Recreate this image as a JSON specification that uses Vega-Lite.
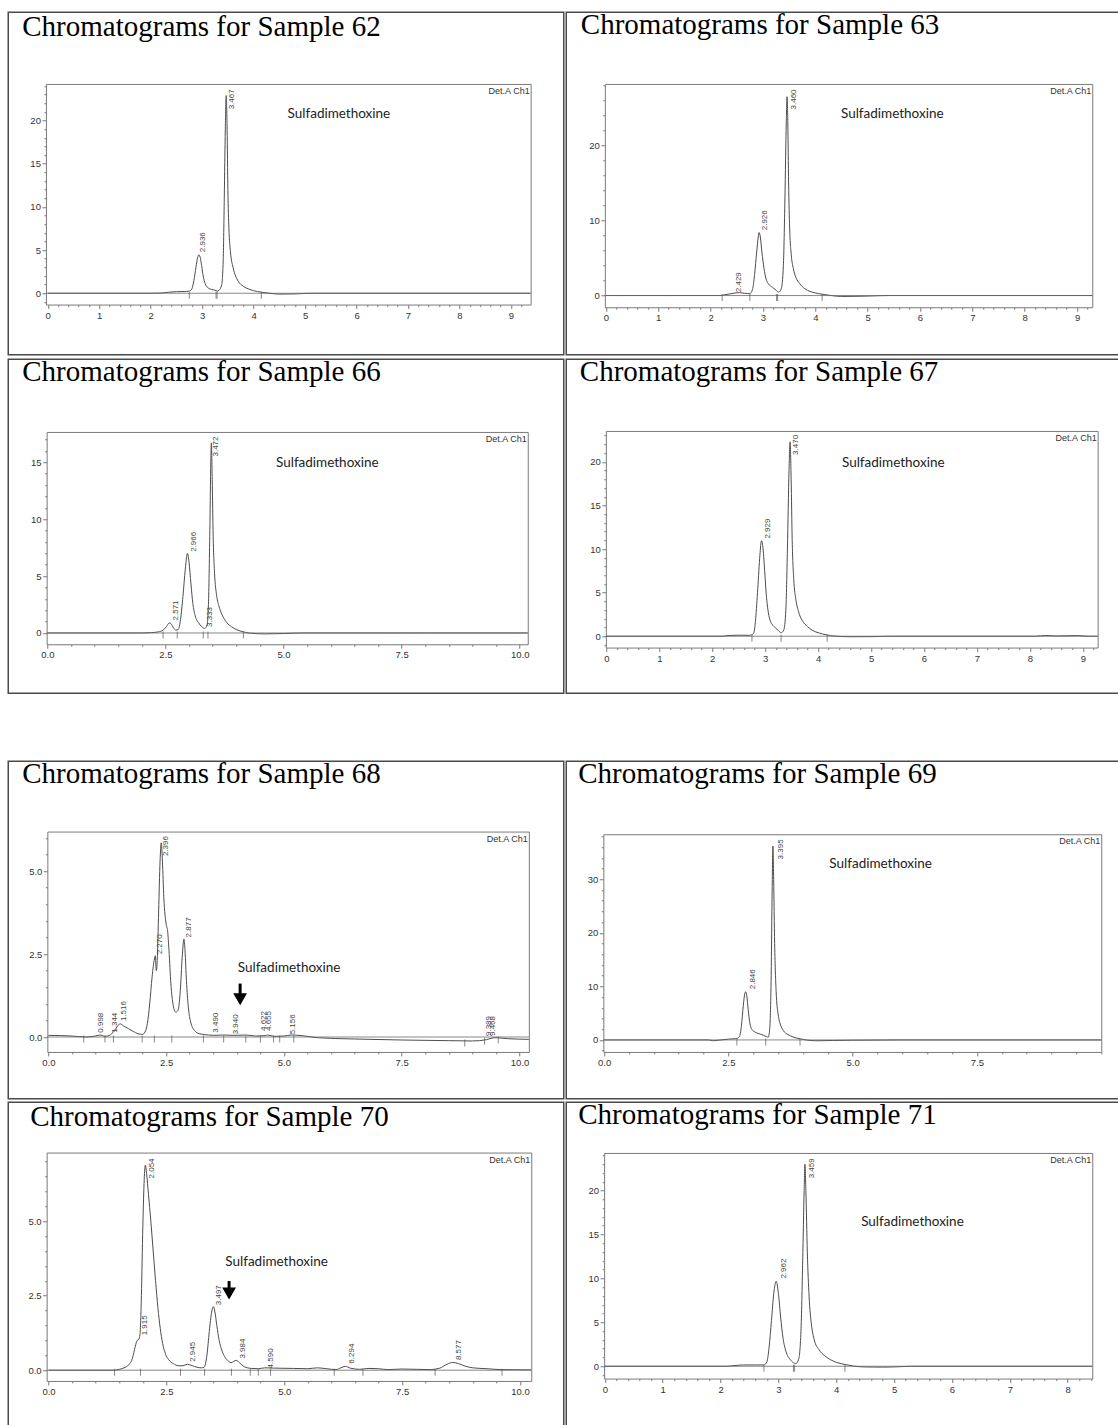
{
"$schema": "https://vega.github.io/schema/vega-lite/v6.json",
"background": "white",
"padding": {"left": 7.25, "top": 9.25, "right": 0, "bottom": 0},
"config": {
  "view": {"stroke": "#4a4a4a", "strokeWidth": 1.5},
  "concat": {"spacing": 0},
  "axis": {"labelFont": "Liberation Sans", "labelFontSize": 9.5, "labelColor": "#333333", "domainColor": "#7a7a7a", "tickColor": "#7a7a7a", "tickSize": 4, "labelPadding": 1.5, "grid": false, "labelFlush": false, "labelOverlap": false},
  "title": {"font": "Liberation Serif", "fontSize": 29, "fontWeight": "normal", "anchor": "start", "color": "#000000", "frame": "group", "baseline": "alphabetic"}
},
"spacing": 65,
"vconcat": [
{"spacing": 0, "vconcat": [
 {"spacing": 0, "hconcat": [
  {
   "width": 555.5, "height": 342.5,
   "title": {"text": "Chromatograms for Sample 62", "offset": -29.3, "dx": 14},
   "resolve": {"axis": {"x": "independent", "y": "independent"}},
   "layer": [
    {"data": {"values": [{"t":0,"v":0},{"t":1,"v":0},{"t":2,"v":0},{"t":2.2,"v":0.02},{"t":2.35,"v":0.12},{"t":2.5,"v":0.18},{"t":2.65,"v":0.2},{"t":2.75,"v":0.25},{"t":2.8,"v":0.5},{"t":2.84,"v":1.5},{"t":2.88,"v":3},{"t":2.91,"v":4.1},{"t":2.936,"v":4.45},{"t":2.96,"v":4.2},{"t":2.99,"v":3.2},{"t":3.02,"v":2},{"t":3.06,"v":1.1},{"t":3.1,"v":0.7},{"t":3.18,"v":0.45},{"t":3.25,"v":0.35},{"t":3.29,"v":0.25},{"t":3.33,"v":0.35},{"t":3.38,"v":1},{"t":3.41,"v":4},{"t":3.43,"v":11},{"t":3.45,"v":19},{"t":3.467,"v":22.9},{"t":3.485,"v":19},{"t":3.5,"v":12},{"t":3.52,"v":7.5},{"t":3.55,"v":4.8},{"t":3.6,"v":3},{"t":3.65,"v":2},{"t":3.7,"v":1.4},{"t":3.8,"v":0.8},{"t":3.9,"v":0.5},{"t":4,"v":0.3},{"t":4.15,"v":0.12},{"t":4.3,"v":0},{"t":4.5,"v":-0.1},{"t":4.8,"v":-0.08},{"t":5,"v":-0.02},{"t":5.2,"v":0},{"t":7,"v":0},{"t":9.38,"v":0}]},
     "mark": {"type": "line", "color": "#4d4d4d", "strokeWidth": 1, "interpolate": "monotone"},
     "encoding": {
      "x": {"field": "t", "type": "quantitative", "title": null, "scale": {"domain": [-0.035, 9.383], "range": [37.7, 522.4], "nice": false, "zero": false}, "axis": {"orient": "bottom", "offset": -50.2, "values": [0,1,2,3,4,5,6,7,8,9], "format": "d"}},
      "y": {"field": "v", "type": "quantitative", "title": null, "scale": {"domain": [-1.31, 24.24], "range": [292.3, 71.7], "nice": false, "zero": false}, "axis": {"orient": "left", "offset": -37.7, "values": [0,5,10,15,20], "format": "d"}}
     }},
    {"data": {"values": [{"t":-0.035,"v":0},{"t":9.383,"v":0}]},
     "mark": {"type": "line", "color": "#6a6a6a", "strokeWidth": 0.8},
     "encoding": {
      "x": {"field": "t", "type": "quantitative", "title": null, "scale": {"domain": [-0.035, 9.383], "range": [37.7, 522.4], "nice": false, "zero": false}, "axis": {"orient": "top", "offset": -71.7, "labels": false, "ticks": false}},
      "y": {"field": "v", "type": "quantitative", "title": null, "scale": {"domain": [-1.31, 24.24], "range": [292.3, 71.7], "nice": false, "zero": false}, "axis": {"orient": "right", "offset": -33.1, "labels": false, "ticks": false}}
     }},
    {"data": {"values": [{"t":2.94,"v":4.75,"lab":"2.936"},{"t":3.5,"v":21.3,"lab":"3.467"}]},
     "mark": {"type": "text", "angle": 270, "align": "left", "baseline": "top", "fontSize": 8, "font": "Liberation Sans", "color": "#444444"},
     "encoding": {
      "x": {"field": "t", "type": "quantitative", "title": null, "scale": {"domain": [-0.035, 9.383], "range": [37.7, 522.4], "nice": false, "zero": false}, "axis": {"orient": "bottom", "offset": -50.2, "values": [0.2,0.4,0.6,0.8,1.2,1.4,1.6,1.8,2.2,2.4,2.6,2.8,3.2,3.4,3.6,3.8,4.2,4.4,4.6,4.8,5.2,5.4,5.6,5.8,6.2,6.4,6.6,6.8,7.2,7.4,7.6,7.8,8.2,8.4,8.6,8.8,9.2], "labels": false, "domain": false, "tickSize": 2}},
      "y": {"field": "v", "type": "quantitative", "title": null, "scale": {"domain": [-1.31, 24.24], "range": [292.3, 71.7], "nice": false, "zero": false}, "axis": {"orient": "left", "offset": -37.7, "values": [-1,1,2,3,4,6,7,8,9,11,12,13,14,16,17,18,19,21,22,23,24], "labels": false, "domain": false, "tickSize": 2}},
      "text": {"field": "lab"}
     }},
    {"data": {"values": [{"t":2.75,"v":0},{"t":3.27,"v":0},{"t":3.29,"v":0},{"t":4.15,"v":0}]},
     "mark": {"type": "tick", "orient": "vertical", "size": 7, "thickness": 1, "color": "#555555", "yOffset": 2},
     "encoding": {
      "x": {"field": "t", "type": "quantitative", "title": null, "scale": {"domain": [-0.035, 9.383], "range": [37.7, 522.4], "nice": false, "zero": false}, "axis": null},
      "y": {"field": "v", "type": "quantitative", "title": null, "scale": {"domain": [-1.31, 24.24], "range": [292.3, 71.7], "nice": false, "zero": false}, "axis": null}
     }},
    {"data": {"values": [{"t":4.66,"v":20.8,"name":"Sulfadimethoxine"}]},
     "mark": {"type": "text", "align": "left", "baseline": "middle", "font": "Lato", "fontSize": 13.5, "color": "#222222"},
     "encoding": {
      "x": {"field": "t", "type": "quantitative", "title": null, "scale": {"domain": [-0.035, 9.383], "range": [37.7, 522.4], "nice": false, "zero": false}, "axis": null},
      "y": {"field": "v", "type": "quantitative", "title": null, "scale": {"domain": [-1.31, 24.24], "range": [292.3, 71.7], "nice": false, "zero": false}, "axis": null},
      "text": {"field": "name"}
     }},
    {"data": {"values": [{"t":9.383,"v":24.24,"name":"Det.A Ch1"}]},
     "mark": {"type": "text", "align": "right", "baseline": "top", "dx": -1, "dy": 3, "font": "Liberation Sans", "fontSize": 9, "color": "#333333"},
     "encoding": {
      "x": {"field": "t", "type": "quantitative", "title": null, "scale": {"domain": [-0.035, 9.383], "range": [37.7, 522.4], "nice": false, "zero": false}, "axis": null},
      "y": {"field": "v", "type": "quantitative", "title": null, "scale": {"domain": [-1.31, 24.24], "range": [292.3, 71.7], "nice": false, "zero": false}, "axis": null},
      "text": {"field": "name"}
     }}
   ]
  },
  {
   "width": 552.5, "height": 342.5,
   "title": {"text": "Chromatograms for Sample 63", "offset": -27.3, "dx": 14.6},
   "resolve": {"axis": {"x": "independent", "y": "independent"}},
   "layer": [
    {"data": {"values": [{"t":0,"v":0},{"t":2,"v":0},{"t":2.2,"v":0},{"t":2.25,"v":0.08},{"t":2.35,"v":0.2},{"t":2.45,"v":0.32},{"t":2.55,"v":0.38},{"t":2.65,"v":0.3},{"t":2.75,"v":0.25},{"t":2.8,"v":0.8},{"t":2.84,"v":2.8},{"t":2.88,"v":5.8},{"t":2.91,"v":7.8},{"t":2.926,"v":8.4},{"t":2.95,"v":7.8},{"t":2.98,"v":5.8},{"t":3.02,"v":3.6},{"t":3.06,"v":2.2},{"t":3.1,"v":1.6},{"t":3.18,"v":1.1},{"t":3.25,"v":0.7},{"t":3.3,"v":0.45},{"t":3.35,"v":0.9},{"t":3.39,"v":4},{"t":3.42,"v":13},{"t":3.445,"v":23},{"t":3.46,"v":26.5},{"t":3.475,"v":23},{"t":3.49,"v":15},{"t":3.51,"v":9},{"t":3.54,"v":5.5},{"t":3.58,"v":3.6},{"t":3.63,"v":2.4},{"t":3.7,"v":1.6},{"t":3.8,"v":0.9},{"t":3.9,"v":0.55},{"t":4,"v":0.35},{"t":4.13,"v":0.18},{"t":4.3,"v":0},{"t":4.5,"v":-0.12},{"t":4.8,"v":-0.1},{"t":5.1,"v":-0.05},{"t":5.4,"v":0},{"t":7,"v":0},{"t":9.29,"v":0}]},
     "mark": {"type": "line", "color": "#4d4d4d", "strokeWidth": 1, "interpolate": "monotone"},
     "encoding": {
      "x": {"field": "t", "type": "quantitative", "title": null, "scale": {"domain": [-0.02, 9.29], "range": [38.6, 526], "nice": false, "zero": false}, "axis": {"orient": "bottom", "offset": -47.5, "values": [0,1,2,3,4,5,6,7,8,9], "format": "d"}},
      "y": {"field": "v", "type": "quantitative", "title": null, "scale": {"domain": [-1.56, 28.2], "range": [295, 71.7], "nice": false, "zero": false}, "axis": {"orient": "left", "offset": -38.6, "values": [0,10,20], "format": "d"}}
     }},
    {"data": {"values": [{"t":-0.02,"v":0},{"t":9.29,"v":0}]},
     "mark": {"type": "line", "color": "#6a6a6a", "strokeWidth": 0.8},
     "encoding": {
      "x": {"field": "t", "type": "quantitative", "title": null, "scale": {"domain": [-0.02, 9.29], "range": [38.6, 526], "nice": false, "zero": false}, "axis": {"orient": "top", "offset": -71.7, "labels": false, "ticks": false}},
      "y": {"field": "v", "type": "quantitative", "title": null, "scale": {"domain": [-1.56, 28.2], "range": [295, 71.7], "nice": false, "zero": false}, "axis": {"orient": "right", "offset": -26.5, "labels": false, "ticks": false}}
     }},
    {"data": {"values": [{"t":2.46,"v":0.44,"lab":"2.429"},{"t":2.97,"v":8.7,"lab":"2.926"},{"t":3.52,"v":24.8,"lab":"3.460"}]},
     "mark": {"type": "text", "angle": 270, "align": "left", "baseline": "top", "fontSize": 8, "font": "Liberation Sans", "color": "#444444"},
     "encoding": {
      "x": {"field": "t", "type": "quantitative", "title": null, "scale": {"domain": [-0.02, 9.29], "range": [38.6, 526], "nice": false, "zero": false}, "axis": {"orient": "bottom", "offset": -47.5, "values": [0.2,0.4,0.6,0.8,1.2,1.4,1.6,1.8,2.2,2.4,2.6,2.8,3.2,3.4,3.6,3.8,4.2,4.4,4.6,4.8,5.2,5.4,5.6,5.8,6.2,6.4,6.6,6.8,7.2,7.4,7.6,7.8,8.2,8.4,8.6,8.8,9.2], "labels": false, "domain": false, "tickSize": 2}},
      "y": {"field": "v", "type": "quantitative", "title": null, "scale": {"domain": [-1.56, 28.2], "range": [295, 71.7], "nice": false, "zero": false}, "axis": {"orient": "left", "offset": -38.6, "values": [2,4,6,8,12,14,16,18,22,24,26,28], "labels": false, "domain": false, "tickSize": 2}},
      "text": {"field": "lab"}
     }},
    {"data": {"values": [{"t":2.22,"v":0},{"t":2.75,"v":0},{"t":3.26,"v":0},{"t":3.28,"v":0},{"t":4.13,"v":0}]},
     "mark": {"type": "tick", "orient": "vertical", "size": 7, "thickness": 1, "color": "#555555", "yOffset": 2},
     "encoding": {
      "x": {"field": "t", "type": "quantitative", "title": null, "scale": {"domain": [-0.02, 9.29], "range": [38.6, 526], "nice": false, "zero": false}, "axis": null},
      "y": {"field": "v", "type": "quantitative", "title": null, "scale": {"domain": [-1.56, 28.2], "range": [295, 71.7], "nice": false, "zero": false}, "axis": null}
     }},
    {"data": {"values": [{"t":4.49,"v":24.2,"name":"Sulfadimethoxine"}]},
     "mark": {"type": "text", "align": "left", "baseline": "middle", "font": "Lato", "fontSize": 13.5, "color": "#222222"},
     "encoding": {
      "x": {"field": "t", "type": "quantitative", "title": null, "scale": {"domain": [-0.02, 9.29], "range": [38.6, 526], "nice": false, "zero": false}, "axis": null},
      "y": {"field": "v", "type": "quantitative", "title": null, "scale": {"domain": [-1.56, 28.2], "range": [295, 71.7], "nice": false, "zero": false}, "axis": null},
      "text": {"field": "name"}
     }},
    {"data": {"values": [{"t":9.29,"v":28.2,"name":"Det.A Ch1"}]},
     "mark": {"type": "text", "align": "right", "baseline": "top", "dx": -1, "dy": 3, "font": "Liberation Sans", "fontSize": 9, "color": "#333333"},
     "encoding": {
      "x": {"field": "t", "type": "quantitative", "title": null, "scale": {"domain": [-0.02, 9.29], "range": [38.6, 526], "nice": false, "zero": false}, "axis": null},
      "y": {"field": "v", "type": "quantitative", "title": null, "scale": {"domain": [-1.56, 28.2], "range": [295, 71.7], "nice": false, "zero": false}, "axis": null},
      "text": {"field": "name"}
     }}
   ]
  }
 ]},
 {"spacing": 0, "hconcat": [
  {
   "width": 555.5, "height": 334,
   "title": {"text": "Chromatograms for Sample 66", "offset": -28, "dx": 14},
   "resolve": {"axis": {"x": "independent", "y": "independent"}},
   "layer": [
    {"data": {"values": [{"t":0,"v":0},{"t":2,"v":0},{"t":2.2,"v":0.03},{"t":2.35,"v":0.1},{"t":2.45,"v":0.25},{"t":2.52,"v":0.55},{"t":2.58,"v":0.88},{"t":2.62,"v":0.8},{"t":2.67,"v":0.45},{"t":2.72,"v":0.25},{"t":2.77,"v":0.3},{"t":2.82,"v":1.2},{"t":2.87,"v":3.2},{"t":2.92,"v":5.6},{"t":2.966,"v":7},{"t":3,"v":6.2},{"t":3.04,"v":4.3},{"t":3.08,"v":2.6},{"t":3.13,"v":1.5},{"t":3.2,"v":0.9},{"t":3.27,"v":0.55},{"t":3.33,"v":0.4},{"t":3.38,"v":0.7},{"t":3.41,"v":2.5},{"t":3.44,"v":9},{"t":3.46,"v":15},{"t":3.472,"v":16.7},{"t":3.49,"v":13.5},{"t":3.51,"v":8.5},{"t":3.54,"v":5.2},{"t":3.58,"v":3.4},{"t":3.63,"v":2.4},{"t":3.7,"v":1.6},{"t":3.8,"v":0.9},{"t":3.9,"v":0.55},{"t":4,"v":0.3},{"t":4.15,"v":0.1},{"t":4.3,"v":-0.02},{"t":4.6,"v":-0.08},{"t":5,"v":-0.05},{"t":5.4,"v":0},{"t":8,"v":0},{"t":10.17,"v":0}]},
     "mark": {"type": "line", "color": "#4d4d4d", "strokeWidth": 1, "interpolate": "monotone"},
     "encoding": {
      "x": {"field": "t", "type": "quantitative", "title": null, "scale": {"domain": [-0.015, 10.17], "range": [38.4, 519.5], "nice": false, "zero": false}, "axis": {"orient": "bottom", "offset": -49, "values": [0,2.5,5,7.5,10], "format": ".1f"}},
      "y": {"field": "v", "type": "quantitative", "title": null, "scale": {"domain": [-0.99, 17.66], "range": [285, 72.7], "nice": false, "zero": false}, "axis": {"orient": "left", "offset": -38.4, "values": [0,5,10,15], "format": "d"}}
     }},
    {"data": {"values": [{"t":-0.015,"v":0},{"t":10.17,"v":0}]},
     "mark": {"type": "line", "color": "#6a6a6a", "strokeWidth": 0.8},
     "encoding": {
      "x": {"field": "t", "type": "quantitative", "title": null, "scale": {"domain": [-0.015, 10.17], "range": [38.4, 519.5], "nice": false, "zero": false}, "axis": {"orient": "top", "offset": -72.7, "labels": false, "ticks": false}},
      "y": {"field": "v", "type": "quantitative", "title": null, "scale": {"domain": [-0.99, 17.66], "range": [285, 72.7], "nice": false, "zero": false}, "axis": {"orient": "right", "offset": -36, "labels": false, "ticks": false}}
     }},
    {"data": {"values": [{"t":2.63,"v":1.1,"lab":"2.571"},{"t":3.02,"v":7.13,"lab":"2.966"},{"t":3.36,"v":0.53,"lab":"3.333"},{"t":3.49,"v":15.5,"lab":"3.472"}]},
     "mark": {"type": "text", "angle": 270, "align": "left", "baseline": "top", "fontSize": 8, "font": "Liberation Sans", "color": "#444444"},
     "encoding": {
      "x": {"field": "t", "type": "quantitative", "title": null, "scale": {"domain": [-0.015, 10.17], "range": [38.4, 519.5], "nice": false, "zero": false}, "axis": {"orient": "bottom", "offset": -49, "values": [0.5,1,1.5,2,3,3.5,4,4.5,5.5,6,6.5,7,8,8.5,9,9.5], "labels": false, "domain": false, "tickSize": 2}},
      "y": {"field": "v", "type": "quantitative", "title": null, "scale": {"domain": [-0.99, 17.66], "range": [285, 72.7], "nice": false, "zero": false}, "axis": {"orient": "left", "offset": -38.4, "values": [1,2,3,4,6,7,8,9,11,12,13,14,16,17], "labels": false, "domain": false, "tickSize": 2}},
      "text": {"field": "lab"}
     }},
    {"data": {"values": [{"t":2.45,"v":0},{"t":2.75,"v":0},{"t":3.3,"v":0},{"t":3.4,"v":0},{"t":4.15,"v":0}]},
     "mark": {"type": "tick", "orient": "vertical", "size": 7, "thickness": 1, "color": "#555555", "yOffset": 2},
     "encoding": {
      "x": {"field": "t", "type": "quantitative", "title": null, "scale": {"domain": [-0.015, 10.17], "range": [38.4, 519.5], "nice": false, "zero": false}, "axis": null},
      "y": {"field": "v", "type": "quantitative", "title": null, "scale": {"domain": [-0.99, 17.66], "range": [285, 72.7], "nice": false, "zero": false}, "axis": null}
     }},
    {"data": {"values": [{"t":4.84,"v":14.97,"name":"Sulfadimethoxine"}]},
     "mark": {"type": "text", "align": "left", "baseline": "middle", "font": "Lato", "fontSize": 13.5, "color": "#222222"},
     "encoding": {
      "x": {"field": "t", "type": "quantitative", "title": null, "scale": {"domain": [-0.015, 10.17], "range": [38.4, 519.5], "nice": false, "zero": false}, "axis": null},
      "y": {"field": "v", "type": "quantitative", "title": null, "scale": {"domain": [-0.99, 17.66], "range": [285, 72.7], "nice": false, "zero": false}, "axis": null},
      "text": {"field": "name"}
     }},
    {"data": {"values": [{"t":10.17,"v":17.66,"name":"Det.A Ch1"}]},
     "mark": {"type": "text", "align": "right", "baseline": "top", "dx": -1, "dy": 3, "font": "Liberation Sans", "fontSize": 9, "color": "#333333"},
     "encoding": {
      "x": {"field": "t", "type": "quantitative", "title": null, "scale": {"domain": [-0.015, 10.17], "range": [38.4, 519.5], "nice": false, "zero": false}, "axis": null},
      "y": {"field": "v", "type": "quantitative", "title": null, "scale": {"domain": [-0.99, 17.66], "range": [285, 72.7], "nice": false, "zero": false}, "axis": null},
      "text": {"field": "name"}
     }}
   ]
  },
  {
   "width": 552.5, "height": 334,
   "title": {"text": "Chromatograms for Sample 67", "offset": -27.7, "dx": 13.6},
   "resolve": {"axis": {"x": "independent", "y": "independent"}},
   "layer": [
    {"data": {"values": [{"t":0,"v":0},{"t":2.2,"v":0},{"t":2.3,"v":0.08},{"t":2.5,"v":0.12},{"t":2.7,"v":0.1},{"t":2.78,"v":0.3},{"t":2.82,"v":2},{"t":2.86,"v":5.5},{"t":2.9,"v":9.3},{"t":2.929,"v":10.95},{"t":2.96,"v":10},{"t":2.99,"v":7.5},{"t":3.02,"v":4.8},{"t":3.06,"v":2.7},{"t":3.1,"v":1.7},{"t":3.17,"v":1.1},{"t":3.25,"v":0.65},{"t":3.3,"v":0.4},{"t":3.35,"v":0.7},{"t":3.39,"v":3},{"t":3.42,"v":10},{"t":3.45,"v":19},{"t":3.47,"v":22.3},{"t":3.49,"v":18},{"t":3.51,"v":11},{"t":3.54,"v":6.5},{"t":3.58,"v":4.2},{"t":3.63,"v":2.8},{"t":3.7,"v":1.8},{"t":3.8,"v":1.1},{"t":3.9,"v":0.65},{"t":4,"v":0.4},{"t":4.17,"v":0.15},{"t":4.3,"v":0.02},{"t":4.6,"v":-0.06},{"t":5,"v":-0.05},{"t":5.4,"v":0},{"t":8.1,"v":0},{"t":8.3,"v":0.08},{"t":8.5,"v":0.03},{"t":8.9,"v":0.07},{"t":9.1,"v":0},{"t":9.28,"v":0}]},
     "mark": {"type": "line", "color": "#4d4d4d", "strokeWidth": 1, "interpolate": "monotone"},
     "encoding": {
      "x": {"field": "t", "type": "quantitative", "title": null, "scale": {"domain": [-0.01, 9.28], "range": [39.6, 531.4], "nice": false, "zero": false}, "axis": {"orient": "bottom", "offset": -45.7, "values": [0,1,2,3,4,5,6,7,8,9], "format": "d"}},
      "y": {"field": "v", "type": "quantitative", "title": null, "scale": {"domain": [-1.3, 23.55], "range": [288.3, 71.7], "nice": false, "zero": false}, "axis": {"orient": "left", "offset": -39.6, "values": [0,5,10,15,20], "format": "d"}}
     }},
    {"data": {"values": [{"t":-0.01,"v":0},{"t":9.28,"v":0}]},
     "mark": {"type": "line", "color": "#6a6a6a", "strokeWidth": 0.8},
     "encoding": {
      "x": {"field": "t", "type": "quantitative", "title": null, "scale": {"domain": [-0.01, 9.28], "range": [39.6, 531.4], "nice": false, "zero": false}, "axis": {"orient": "top", "offset": -71.7, "labels": false, "ticks": false}},
      "y": {"field": "v", "type": "quantitative", "title": null, "scale": {"domain": [-1.3, 23.55], "range": [288.3, 71.7], "nice": false, "zero": false}, "axis": {"orient": "right", "offset": -21.1, "labels": false, "ticks": false}}
     }},
    {"data": {"values": [{"t":2.98,"v":11.2,"lab":"2.929"},{"t":3.51,"v":20.8,"lab":"3.470"}]},
     "mark": {"type": "text", "angle": 270, "align": "left", "baseline": "top", "fontSize": 8, "font": "Liberation Sans", "color": "#444444"},
     "encoding": {
      "x": {"field": "t", "type": "quantitative", "title": null, "scale": {"domain": [-0.01, 9.28], "range": [39.6, 531.4], "nice": false, "zero": false}, "axis": {"orient": "bottom", "offset": -45.7, "values": [0.2,0.4,0.6,0.8,1.2,1.4,1.6,1.8,2.2,2.4,2.6,2.8,3.2,3.4,3.6,3.8,4.2,4.4,4.6,4.8,5.2,5.4,5.6,5.8,6.2,6.4,6.6,6.8,7.2,7.4,7.6,7.8,8.2,8.4,8.6,8.8,9.2], "labels": false, "domain": false, "tickSize": 2}},
      "y": {"field": "v", "type": "quantitative", "title": null, "scale": {"domain": [-1.3, 23.55], "range": [288.3, 71.7], "nice": false, "zero": false}, "axis": {"orient": "left", "offset": -39.6, "values": [-1,1,2,3,4,6,7,8,9,11,12,13,14,16,17,18,19,21,22,23], "labels": false, "domain": false, "tickSize": 2}},
      "text": {"field": "lab"}
     }},
    {"data": {"values": [{"t":2.75,"v":0},{"t":3.3,"v":0},{"t":4.17,"v":0}]},
     "mark": {"type": "tick", "orient": "vertical", "size": 7, "thickness": 1, "color": "#555555", "yOffset": 2},
     "encoding": {
      "x": {"field": "t", "type": "quantitative", "title": null, "scale": {"domain": [-0.01, 9.28], "range": [39.6, 531.4], "nice": false, "zero": false}, "axis": null},
      "y": {"field": "v", "type": "quantitative", "title": null, "scale": {"domain": [-1.3, 23.55], "range": [288.3, 71.7], "nice": false, "zero": false}, "axis": null}
     }},
    {"data": {"values": [{"t":4.45,"v":19.9,"name":"Sulfadimethoxine"}]},
     "mark": {"type": "text", "align": "left", "baseline": "middle", "font": "Lato", "fontSize": 13.5, "color": "#222222"},
     "encoding": {
      "x": {"field": "t", "type": "quantitative", "title": null, "scale": {"domain": [-0.01, 9.28], "range": [39.6, 531.4], "nice": false, "zero": false}, "axis": null},
      "y": {"field": "v", "type": "quantitative", "title": null, "scale": {"domain": [-1.3, 23.55], "range": [288.3, 71.7], "nice": false, "zero": false}, "axis": null},
      "text": {"field": "name"}
     }},
    {"data": {"values": [{"t":9.28,"v":23.55,"name":"Det.A Ch1"}]},
     "mark": {"type": "text", "align": "right", "baseline": "top", "dx": -1, "dy": 3, "font": "Liberation Sans", "fontSize": 9, "color": "#333333"},
     "encoding": {
      "x": {"field": "t", "type": "quantitative", "title": null, "scale": {"domain": [-0.01, 9.28], "range": [39.6, 531.4], "nice": false, "zero": false}, "axis": null},
      "y": {"field": "v", "type": "quantitative", "title": null, "scale": {"domain": [-1.3, 23.55], "range": [288.3, 71.7], "nice": false, "zero": false}, "axis": null},
      "text": {"field": "name"}
     }}
   ]
  }
 ]}
]},
{"spacing": 0, "vconcat": [
 {"spacing": 0, "hconcat": [
  {
   "width": 555.5, "height": 337.5,
   "title": {"text": "Chromatograms for Sample 68", "offset": -28, "dx": 14},
   "resolve": {"axis": {"x": "independent", "y": "independent"}},
   "layer": [
    {"data": {"values": [{"t":0,"v":0.05},{"t":0.5,"v":0.03},{"t":0.8,"v":0},{"t":1,"v":0.03},{"t":1.1,"v":0.06},{"t":1.2,"v":0.02},{"t":1.3,"v":0.05},{"t":1.344,"v":0.1},{"t":1.4,"v":0.18},{"t":1.45,"v":0.3},{"t":1.5,"v":0.38},{"t":1.516,"v":0.4},{"t":1.6,"v":0.33},{"t":1.7,"v":0.25},{"t":1.8,"v":0.17},{"t":1.9,"v":0.1},{"t":2,"v":0.08},{"t":2.05,"v":0.15},{"t":2.1,"v":0.4},{"t":2.15,"v":1},{"t":2.2,"v":1.8},{"t":2.25,"v":2.35},{"t":2.27,"v":2.45},{"t":2.29,"v":2},{"t":2.31,"v":2.3},{"t":2.34,"v":3.8},{"t":2.37,"v":5.3},{"t":2.396,"v":5.85},{"t":2.42,"v":5.3},{"t":2.45,"v":4.2},{"t":2.5,"v":3.4},{"t":2.53,"v":3.2},{"t":2.56,"v":2.6},{"t":2.6,"v":1.6},{"t":2.65,"v":0.95},{"t":2.7,"v":0.75},{"t":2.75,"v":0.8},{"t":2.8,"v":1.4},{"t":2.84,"v":2.4},{"t":2.877,"v":2.95},{"t":2.9,"v":2.6},{"t":2.93,"v":1.7},{"t":2.97,"v":0.9},{"t":3.02,"v":0.45},{"t":3.1,"v":0.2},{"t":3.2,"v":0.1},{"t":3.4,"v":0.06},{"t":3.5,"v":0.05},{"t":3.7,"v":0.06},{"t":3.94,"v":0.05},{"t":4.2,"v":0.06},{"t":4.4,"v":0.03},{"t":4.6,"v":0.04},{"t":4.65,"v":0.06},{"t":4.8,"v":0.02},{"t":5,"v":0.03},{"t":5.156,"v":0.06},{"t":5.4,"v":0.04},{"t":5.7,"v":-0.02},{"t":6.5,"v":-0.06},{"t":7.5,"v":-0.09},{"t":8.5,"v":-0.11},{"t":9,"v":-0.12},{"t":9.3,"v":-0.08},{"t":9.4,"v":-0.04},{"t":9.5,"v":-0.02},{"t":9.6,"v":-0.03},{"t":9.75,"v":-0.05},{"t":10.2,"v":-0.07}]},
     "mark": {"type": "line", "color": "#4d4d4d", "strokeWidth": 1, "interpolate": "monotone"},
     "encoding": {
      "x": {"field": "t", "type": "quantitative", "title": null, "scale": {"domain": [-0.023, 10.2], "range": [39.1, 520.6], "nice": false, "zero": false}, "axis": {"orient": "bottom", "offset": -46.8, "values": [0,2.5,5,7.5,10], "format": ".1f"}},
      "y": {"field": "v", "type": "quantitative", "title": null, "scale": {"domain": [-0.45, 6.19], "range": [290.7, 70.3], "nice": false, "zero": false}, "axis": {"orient": "left", "offset": -39.1, "values": [0,2.5,5], "format": ".1f"}}
     }},
    {"data": {"values": [{"t":-0.023,"v":0},{"t":10.2,"v":0}]},
     "mark": {"type": "line", "color": "#6a6a6a", "strokeWidth": 0.8},
     "encoding": {
      "x": {"field": "t", "type": "quantitative", "title": null, "scale": {"domain": [-0.023, 10.2], "range": [39.1, 520.6], "nice": false, "zero": false}, "axis": {"orient": "top", "offset": -70.3, "labels": false, "ticks": false}},
      "y": {"field": "v", "type": "quantitative", "title": null, "scale": {"domain": [-0.45, 6.19], "range": [290.7, 70.3], "nice": false, "zero": false}, "axis": {"orient": "right", "offset": -34.9, "labels": false, "ticks": false}}
     }},
    {"data": {"values": [{"t":1.04,"v":0.13,"lab":"0.998"},{"t":1.33,"v":0.13,"lab":"1.344"},{"t":1.51,"v":0.48,"lab":"1.516"},{"t":2.28,"v":2.49,"lab":"2.270"},{"t":2.42,"v":5.45,"lab":"2.396"},{"t":2.89,"v":3.0,"lab":"2.877"},{"t":3.48,"v":0.13,"lab":"3.490"},{"t":3.9,"v":0.08,"lab":"3.940"},{"t":4.49,"v":0.18,"lab":"4.622"},{"t":4.6,"v":0.18,"lab":"4.655"},{"t":5.11,"v":0.08,"lab":"5.156"},{"t":9.27,"v":0.03,"lab":"9.389"},{"t":9.36,"v":0.03,"lab":"9.468"}]},
     "mark": {"type": "text", "angle": 270, "align": "left", "baseline": "top", "fontSize": 8, "font": "Liberation Sans", "color": "#444444"},
     "encoding": {
      "x": {"field": "t", "type": "quantitative", "title": null, "scale": {"domain": [-0.023, 10.2], "range": [39.1, 520.6], "nice": false, "zero": false}, "axis": {"orient": "bottom", "offset": -46.8, "values": [0.5,1,1.5,2,3,3.5,4,4.5,5.5,6,6.5,7,8,8.5,9,9.5], "labels": false, "domain": false, "tickSize": 2}},
      "y": {"field": "v", "type": "quantitative", "title": null, "scale": {"domain": [-0.45, 6.19], "range": [290.7, 70.3], "nice": false, "zero": false}, "axis": {"orient": "left", "offset": -39.1, "values": [0.5,1,1.5,2,3,3.5,4,4.5,5.5,6], "labels": false, "domain": false, "tickSize": 2}},
      "text": {"field": "lab"}
     }},
    {"data": {"values": [{"t":0.75,"v":0},{"t":1.2,"v":0},{"t":1.38,"v":0},{"t":1.99,"v":0},{"t":2.25,"v":0},{"t":2.62,"v":0},{"t":3.29,"v":0},{"t":3.72,"v":0},{"t":4.19,"v":0},{"t":4.5,"v":0},{"t":4.78,"v":0},{"t":4.91,"v":0},{"t":5.21,"v":0},{"t":8.84,"v":-0.12},{"t":9.26,"v":-0.07},{"t":9.55,"v":-0.03}]},
     "mark": {"type": "tick", "orient": "vertical", "size": 7, "thickness": 1, "color": "#555555", "yOffset": 2},
     "encoding": {
      "x": {"field": "t", "type": "quantitative", "title": null, "scale": {"domain": [-0.023, 10.2], "range": [39.1, 520.6], "nice": false, "zero": false}, "axis": null},
      "y": {"field": "v", "type": "quantitative", "title": null, "scale": {"domain": [-0.45, 6.19], "range": [290.7, 70.3], "nice": false, "zero": false}, "axis": null}
     }},
    {"data": {"values": [{"t":4.02,"v":2.09,"name":"Sulfadimethoxine"}]},
     "mark": {"type": "text", "align": "left", "baseline": "middle", "font": "Lato", "fontSize": 13.5, "color": "#222222"},
     "encoding": {
      "x": {"field": "t", "type": "quantitative", "title": null, "scale": {"domain": [-0.023, 10.2], "range": [39.1, 520.6], "nice": false, "zero": false}, "axis": null},
      "y": {"field": "v", "type": "quantitative", "title": null, "scale": {"domain": [-0.45, 6.19], "range": [290.7, 70.3], "nice": false, "zero": false}, "axis": null},
      "text": {"field": "name"}
     }},
    {"data": {"values": [{"t":4.07,"v":1.61,"v2":1.2}]},
     "mark": {"type": "rule", "color": "#000000", "strokeWidth": 3},
     "encoding": {
      "x": {"field": "t", "type": "quantitative", "title": null, "scale": {"domain": [-0.023, 10.2], "range": [39.1, 520.6], "nice": false, "zero": false}, "axis": null},
      "y": {"field": "v", "type": "quantitative", "title": null, "scale": {"domain": [-0.45, 6.19], "range": [290.7, 70.3], "nice": false, "zero": false}, "axis": null},
      "y2": {"field": "v2"}
     }},
    {"data": {"values": [{"t":4.07,"v":1.135}]},
     "mark": {"type": "point", "shape": "triangle-down", "filled": true, "size": 190, "color": "#000000", "opacity": 1},
     "encoding": {
      "x": {"field": "t", "type": "quantitative", "title": null, "scale": {"domain": [-0.023, 10.2], "range": [39.1, 520.6], "nice": false, "zero": false}, "axis": null},
      "y": {"field": "v", "type": "quantitative", "title": null, "scale": {"domain": [-0.45, 6.19], "range": [290.7, 70.3], "nice": false, "zero": false}, "axis": null}
     }},
    {"data": {"values": [{"t":10.2,"v":6.19,"name":"Det.A Ch1"}]},
     "mark": {"type": "text", "align": "right", "baseline": "top", "dx": -1, "dy": 3, "font": "Liberation Sans", "fontSize": 9, "color": "#333333"},
     "encoding": {
      "x": {"field": "t", "type": "quantitative", "title": null, "scale": {"domain": [-0.023, 10.2], "range": [39.1, 520.6], "nice": false, "zero": false}, "axis": null},
      "y": {"field": "v", "type": "quantitative", "title": null, "scale": {"domain": [-0.45, 6.19], "range": [290.7, 70.3], "nice": false, "zero": false}, "axis": null},
      "text": {"field": "name"}
     }}
   ]
  },
  {
   "width": 552.5, "height": 337.5,
   "title": {"text": "Chromatograms for Sample 69", "offset": -28, "dx": 12},
   "resolve": {"axis": {"x": "independent", "y": "independent"}},
   "layer": [
    {"data": {"values": [{"t":0,"v":0},{"t":2.1,"v":0},{"t":2.2,"v":-0.15},{"t":2.3,"v":-0.05},{"t":2.5,"v":0.15},{"t":2.65,"v":0.25},{"t":2.72,"v":0.6},{"t":2.76,"v":2.5},{"t":2.8,"v":6.5},{"t":2.83,"v":8.7},{"t":2.846,"v":9},{"t":2.87,"v":8.2},{"t":2.9,"v":5.5},{"t":2.93,"v":3.2},{"t":2.97,"v":2},{"t":3.03,"v":1.5},{"t":3.1,"v":1.2},{"t":3.2,"v":0.9},{"t":3.27,"v":0.6},{"t":3.3,"v":0.5},{"t":3.33,"v":2},{"t":3.36,"v":12},{"t":3.38,"v":28},{"t":3.395,"v":36.2},{"t":3.41,"v":30},{"t":3.43,"v":18},{"t":3.46,"v":9},{"t":3.5,"v":4.8},{"t":3.55,"v":2.8},{"t":3.6,"v":1.8},{"t":3.7,"v":1},{"t":3.8,"v":0.55},{"t":3.95,"v":0.2},{"t":4.1,"v":-0.05},{"t":4.3,"v":-0.15},{"t":4.6,"v":-0.1},{"t":5,"v":-0.05},{"t":6,"v":0},{"t":10,"v":0}]},
     "mark": {"type": "line", "color": "#4d4d4d", "strokeWidth": 1, "interpolate": "monotone"},
     "encoding": {
      "x": {"field": "t", "type": "quantitative", "title": null, "scale": {"domain": [-0.016, 10], "range": [37.1, 535], "nice": false, "zero": false}, "axis": {"orient": "bottom", "offset": -46.8, "values": [0,2.5,5,7.5], "format": ".1f"}},
      "y": {"field": "v", "type": "quantitative", "title": null, "scale": {"domain": [-2.24, 38.4], "range": [290.7, 73], "nice": false, "zero": false}, "axis": {"orient": "left", "offset": -37.1, "values": [0,10,20,30], "format": "d"}}
     }},
    {"data": {"values": [{"t":-0.016,"v":0},{"t":10,"v":0}]},
     "mark": {"type": "line", "color": "#6a6a6a", "strokeWidth": 0.8},
     "encoding": {
      "x": {"field": "t", "type": "quantitative", "title": null, "scale": {"domain": [-0.016, 10], "range": [37.1, 535], "nice": false, "zero": false}, "axis": {"orient": "top", "offset": -73, "labels": false, "ticks": false}},
      "y": {"field": "v", "type": "quantitative", "title": null, "scale": {"domain": [-2.24, 38.4], "range": [290.7, 73], "nice": false, "zero": false}, "axis": {"orient": "right", "offset": -17.5, "labels": false, "ticks": false}}
     }},
    {"data": {"values": [{"t":2.92,"v":9.46,"lab":"2.846"},{"t":3.48,"v":33.7,"lab":"3.395"}]},
     "mark": {"type": "text", "angle": 270, "align": "left", "baseline": "top", "fontSize": 8, "font": "Liberation Sans", "color": "#444444"},
     "encoding": {
      "x": {"field": "t", "type": "quantitative", "title": null, "scale": {"domain": [-0.016, 10], "range": [37.1, 535], "nice": false, "zero": false}, "axis": {"orient": "bottom", "offset": -46.8, "values": [0.5,1,1.5,2,3,3.5,4,4.5,5.5,6,6.5,7,8,8.5,9,9.5,10], "labels": false, "domain": false, "tickSize": 2}},
      "y": {"field": "v", "type": "quantitative", "title": null, "scale": {"domain": [-2.24, 38.4], "range": [290.7, 73], "nice": false, "zero": false}, "axis": {"orient": "left", "offset": -37.1, "values": [-2,2,4,6,8,12,14,16,18,22,24,26,28,32,34,36,38], "labels": false, "domain": false, "tickSize": 2}},
      "text": {"field": "lab"}
     }},
    {"data": {"values": [{"t":2.67,"v":0},{"t":3.25,"v":0},{"t":3.94,"v":0}]},
     "mark": {"type": "tick", "orient": "vertical", "size": 7, "thickness": 1, "color": "#555555", "yOffset": 2},
     "encoding": {
      "x": {"field": "t", "type": "quantitative", "title": null, "scale": {"domain": [-0.016, 10], "range": [37.1, 535], "nice": false, "zero": false}, "axis": null},
      "y": {"field": "v", "type": "quantitative", "title": null, "scale": {"domain": [-2.24, 38.4], "range": [290.7, 73], "nice": false, "zero": false}, "axis": null}
     }},
    {"data": {"values": [{"t":4.53,"v":32.8,"name":"Sulfadimethoxine"}]},
     "mark": {"type": "text", "align": "left", "baseline": "middle", "font": "Lato", "fontSize": 13.5, "color": "#222222"},
     "encoding": {
      "x": {"field": "t", "type": "quantitative", "title": null, "scale": {"domain": [-0.016, 10], "range": [37.1, 535], "nice": false, "zero": false}, "axis": null},
      "y": {"field": "v", "type": "quantitative", "title": null, "scale": {"domain": [-2.24, 38.4], "range": [290.7, 73], "nice": false, "zero": false}, "axis": null},
      "text": {"field": "name"}
     }},
    {"data": {"values": [{"t":10,"v":38.4,"name":"Det.A Ch1"}]},
     "mark": {"type": "text", "align": "right", "baseline": "top", "dx": -1, "dy": 3, "font": "Liberation Sans", "fontSize": 9, "color": "#333333"},
     "encoding": {
      "x": {"field": "t", "type": "quantitative", "title": null, "scale": {"domain": [-0.016, 10], "range": [37.1, 535], "nice": false, "zero": false}, "axis": null},
      "y": {"field": "v", "type": "quantitative", "title": null, "scale": {"domain": [-2.24, 38.4], "range": [290.7, 73], "nice": false, "zero": false}, "axis": null},
      "text": {"field": "name"}
     }}
   ]
  }
 ]},
 {"spacing": 0, "hconcat": [
  {
   "width": 555.5, "height": 327,
   "title": {"text": "Chromatograms for Sample 70", "offset": -29.7, "dx": 22},
   "resolve": {"axis": {"x": "independent", "y": "independent"}},
   "layer": [
    {"data": {"values": [{"t":0,"v":0},{"t":1.3,"v":0},{"t":1.4,"v":0},{"t":1.5,"v":0.03},{"t":1.6,"v":0.08},{"t":1.7,"v":0.18},{"t":1.78,"v":0.4},{"t":1.84,"v":0.8},{"t":1.88,"v":1},{"t":1.915,"v":1.04},{"t":1.94,"v":1.2},{"t":1.97,"v":2.5},{"t":2,"v":4.8},{"t":2.03,"v":6.4},{"t":2.054,"v":6.88},{"t":2.08,"v":6.6},{"t":2.12,"v":5.9},{"t":2.17,"v":5},{"t":2.22,"v":4},{"t":2.27,"v":3},{"t":2.32,"v":2.1},{"t":2.37,"v":1.4},{"t":2.42,"v":0.9},{"t":2.48,"v":0.55},{"t":2.55,"v":0.35},{"t":2.65,"v":0.22},{"t":2.75,"v":0.15},{"t":2.85,"v":0.15},{"t":2.945,"v":0.2},{"t":3.05,"v":0.15},{"t":3.15,"v":0.1},{"t":3.25,"v":0.08},{"t":3.3,"v":0.1},{"t":3.36,"v":0.5},{"t":3.41,"v":1.3},{"t":3.46,"v":1.95},{"t":3.497,"v":2.13},{"t":3.53,"v":1.95},{"t":3.57,"v":1.5},{"t":3.62,"v":1},{"t":3.68,"v":0.65},{"t":3.75,"v":0.42},{"t":3.82,"v":0.3},{"t":3.87,"v":0.25},{"t":3.93,"v":0.3},{"t":3.984,"v":0.33},{"t":4.05,"v":0.25},{"t":4.15,"v":0.12},{"t":4.3,"v":0.06},{"t":4.45,"v":0.05},{"t":4.59,"v":0.08},{"t":4.8,"v":0.07},{"t":5.2,"v":0.06},{"t":5.5,"v":0.05},{"t":5.7,"v":0.08},{"t":5.9,"v":0.05},{"t":6.1,"v":0.02},{"t":6.2,"v":0.08},{"t":6.294,"v":0.13},{"t":6.4,"v":0.07},{"t":6.6,"v":0.03},{"t":6.8,"v":0.06},{"t":7,"v":0.05},{"t":7.2,"v":0.02},{"t":7.5,"v":0.04},{"t":7.8,"v":0.03},{"t":8.1,"v":0.02},{"t":8.3,"v":0.07},{"t":8.45,"v":0.2},{"t":8.577,"v":0.26},{"t":8.7,"v":0.22},{"t":8.85,"v":0.13},{"t":9,"v":0.08},{"t":9.3,"v":0.05},{"t":9.6,"v":0.02},{"t":10.24,"v":0.01}]},
     "mark": {"type": "line", "color": "#4d4d4d", "strokeWidth": 1, "interpolate": "monotone"},
     "encoding": {
      "x": {"field": "t", "type": "quantitative", "title": null, "scale": {"domain": [-0.04, 10.24], "range": [38.4, 523], "nice": false, "zero": false}, "axis": {"orient": "bottom", "offset": -48.3, "values": [0,2.5,5,7.5,10], "format": ".1f"}},
      "y": {"field": "v", "type": "quantitative", "title": null, "scale": {"domain": [-0.36, 7.3], "range": [278.7, 50.3], "nice": false, "zero": false}, "axis": {"orient": "left", "offset": -38.4, "values": [0,2.5,5], "format": ".1f"}}
     }},
    {"data": {"values": [{"t":-0.04,"v":0},{"t":10.24,"v":0}]},
     "mark": {"type": "line", "color": "#6a6a6a", "strokeWidth": 0.8},
     "encoding": {
      "x": {"field": "t", "type": "quantitative", "title": null, "scale": {"domain": [-0.04, 10.24], "range": [38.4, 523], "nice": false, "zero": false}, "axis": {"orient": "top", "offset": -50.3, "labels": false, "ticks": false}},
      "y": {"field": "v", "type": "quantitative", "title": null, "scale": {"domain": [-0.36, 7.3], "range": [278.7, 50.3], "nice": false, "zero": false}, "axis": {"orient": "right", "offset": -32.5, "labels": false, "ticks": false}}
     }},
    {"data": {"values": [{"t":1.96,"v":1.17,"lab":"1.915"},{"t":2.11,"v":6.43,"lab":"2.054"},{"t":2.98,"v":0.28,"lab":"2.945"},{"t":3.54,"v":2.18,"lab":"3.497"},{"t":4.03,"v":0.39,"lab":"3.984"},{"t":4.63,"v":0.06,"lab":"4.590"},{"t":6.36,"v":0.22,"lab":"6.294"},{"t":8.63,"v":0.34,"lab":"8.577"}]},
     "mark": {"type": "text", "angle": 270, "align": "left", "baseline": "top", "fontSize": 8, "font": "Liberation Sans", "color": "#444444"},
     "encoding": {
      "x": {"field": "t", "type": "quantitative", "title": null, "scale": {"domain": [-0.04, 10.24], "range": [38.4, 523], "nice": false, "zero": false}, "axis": {"orient": "bottom", "offset": -48.3, "values": [0.5,1,1.5,2,3,3.5,4,4.5,5.5,6,6.5,7,8,8.5,9,9.5], "labels": false, "domain": false, "tickSize": 2}},
      "y": {"field": "v", "type": "quantitative", "title": null, "scale": {"domain": [-0.36, 7.3], "range": [278.7, 50.3], "nice": false, "zero": false}, "axis": {"orient": "left", "offset": -38.4, "values": [0.5,1,1.5,2,3,3.5,4,4.5,5.5,6,6.5,7], "labels": false, "domain": false, "tickSize": 2}},
      "text": {"field": "lab"}
     }},
    {"data": {"values": [{"t":1.4,"v":0},{"t":1.95,"v":0},{"t":2.8,"v":0},{"t":3.31,"v":0},{"t":3.88,"v":0},{"t":4.28,"v":0},{"t":4.45,"v":0},{"t":4.71,"v":0},{"t":6.06,"v":0},{"t":6.67,"v":0},{"t":8.2,"v":0},{"t":9.62,"v":0}]},
     "mark": {"type": "tick", "orient": "vertical", "size": 7, "thickness": 1, "color": "#555555", "yOffset": 2},
     "encoding": {
      "x": {"field": "t", "type": "quantitative", "title": null, "scale": {"domain": [-0.04, 10.24], "range": [38.4, 523], "nice": false, "zero": false}, "axis": null},
      "y": {"field": "v", "type": "quantitative", "title": null, "scale": {"domain": [-0.36, 7.3], "range": [278.7, 50.3], "nice": false, "zero": false}, "axis": null}
     }},
    {"data": {"values": [{"t":3.75,"v":3.63,"name":"Sulfadimethoxine"}]},
     "mark": {"type": "text", "align": "left", "baseline": "middle", "font": "Lato", "fontSize": 13.5, "color": "#222222"},
     "encoding": {
      "x": {"field": "t", "type": "quantitative", "title": null, "scale": {"domain": [-0.04, 10.24], "range": [38.4, 523], "nice": false, "zero": false}, "axis": null},
      "y": {"field": "v", "type": "quantitative", "title": null, "scale": {"domain": [-0.36, 7.3], "range": [278.7, 50.3], "nice": false, "zero": false}, "axis": null},
      "text": {"field": "name"}
     }},
    {"data": {"values": [{"t":3.83,"v":2.99,"v2":2.68}]},
     "mark": {"type": "rule", "color": "#000000", "strokeWidth": 3},
     "encoding": {
      "x": {"field": "t", "type": "quantitative", "title": null, "scale": {"domain": [-0.04, 10.24], "range": [38.4, 523], "nice": false, "zero": false}, "axis": null},
      "y": {"field": "v", "type": "quantitative", "title": null, "scale": {"domain": [-0.36, 7.3], "range": [278.7, 50.3], "nice": false, "zero": false}, "axis": null},
      "y2": {"field": "v2"}
     }},
    {"data": {"values": [{"t":3.83,"v":2.575}]},
     "mark": {"type": "point", "shape": "triangle-down", "filled": true, "size": 190, "color": "#000000", "opacity": 1},
     "encoding": {
      "x": {"field": "t", "type": "quantitative", "title": null, "scale": {"domain": [-0.04, 10.24], "range": [38.4, 523], "nice": false, "zero": false}, "axis": null},
      "y": {"field": "v", "type": "quantitative", "title": null, "scale": {"domain": [-0.36, 7.3], "range": [278.7, 50.3], "nice": false, "zero": false}, "axis": null}
     }},
    {"data": {"values": [{"t":10.24,"v":7.3,"name":"Det.A Ch1"}]},
     "mark": {"type": "text", "align": "right", "baseline": "top", "dx": -1, "dy": 3, "font": "Liberation Sans", "fontSize": 9, "color": "#333333"},
     "encoding": {
      "x": {"field": "t", "type": "quantitative", "title": null, "scale": {"domain": [-0.04, 10.24], "range": [38.4, 523], "nice": false, "zero": false}, "axis": null},
      "y": {"field": "v", "type": "quantitative", "title": null, "scale": {"domain": [-0.36, 7.3], "range": [278.7, 50.3], "nice": false, "zero": false}, "axis": null},
      "text": {"field": "name"}
     }}
   ]
  },
  {
   "width": 552.5, "height": 327,
   "title": {"text": "Chromatograms for Sample 71", "offset": -28, "dx": 12},
   "resolve": {"axis": {"x": "independent", "y": "independent"}},
   "layer": [
    {"data": {"values": [{"t":0,"v":0},{"t":2.1,"v":0},{"t":2.25,"v":0.08},{"t":2.4,"v":0.15},{"t":2.6,"v":0.15},{"t":2.75,"v":0.15},{"t":2.8,"v":0.5},{"t":2.84,"v":2.2},{"t":2.88,"v":5.2},{"t":2.92,"v":8.3},{"t":2.962,"v":9.68},{"t":3,"v":8.3},{"t":3.04,"v":5.5},{"t":3.08,"v":3.2},{"t":3.13,"v":1.7},{"t":3.2,"v":0.8},{"t":3.26,"v":0.4},{"t":3.3,"v":0.3},{"t":3.35,"v":0.8},{"t":3.39,"v":4},{"t":3.42,"v":12},{"t":3.445,"v":20},{"t":3.459,"v":23},{"t":3.475,"v":20},{"t":3.5,"v":13},{"t":3.53,"v":8},{"t":3.57,"v":4.8},{"t":3.62,"v":3},{"t":3.7,"v":1.9},{"t":3.8,"v":1.2},{"t":3.9,"v":0.75},{"t":4,"v":0.45},{"t":4.17,"v":0.18},{"t":4.3,"v":0.02},{"t":4.5,"v":-0.08},{"t":4.8,"v":-0.1},{"t":5.1,"v":-0.05},{"t":5.3,"v":0},{"t":8.425,"v":0}]},
     "mark": {"type": "line", "color": "#4d4d4d", "strokeWidth": 1, "interpolate": "monotone"},
     "encoding": {
      "x": {"field": "t", "type": "quantitative", "title": null, "scale": {"domain": [-0.012, 8.425], "range": [37.9, 526], "nice": false, "zero": false}, "axis": {"orient": "bottom", "offset": -50.7, "values": [0,1,2,3,4,5,6,7,8], "format": "d"}},
      "y": {"field": "v", "type": "quantitative", "title": null, "scale": {"domain": [-1.4, 24.29], "range": [276.3, 50.7], "nice": false, "zero": false}, "axis": {"orient": "left", "offset": -37.9, "values": [0,5,10,15,20], "format": "d"}}
     }},
    {"data": {"values": [{"t":-0.012,"v":0},{"t":8.425,"v":0}]},
     "mark": {"type": "line", "color": "#6a6a6a", "strokeWidth": 0.8},
     "encoding": {
      "x": {"field": "t", "type": "quantitative", "title": null, "scale": {"domain": [-0.012, 8.425], "range": [37.9, 526], "nice": false, "zero": false}, "axis": {"orient": "top", "offset": -50.7, "labels": false, "ticks": false}},
      "y": {"field": "v", "type": "quantitative", "title": null, "scale": {"domain": [-1.4, 24.29], "range": [276.3, 50.7], "nice": false, "zero": false}, "axis": {"orient": "right", "offset": -26.5, "labels": false, "ticks": false}}
     }},
    {"data": {"values": [{"t":3.02,"v":9.98,"lab":"2.962"},{"t":3.52,"v":21.4,"lab":"3.459"}]},
     "mark": {"type": "text", "angle": 270, "align": "left", "baseline": "top", "fontSize": 8, "font": "Liberation Sans", "color": "#444444"},
     "encoding": {
      "x": {"field": "t", "type": "quantitative", "title": null, "scale": {"domain": [-0.012, 8.425], "range": [37.9, 526], "nice": false, "zero": false}, "axis": {"orient": "bottom", "offset": -50.7, "values": [0.2,0.4,0.6,0.8,1.2,1.4,1.6,1.8,2.2,2.4,2.6,2.8,3.2,3.4,3.6,3.8,4.2,4.4,4.6,4.8,5.2,5.4,5.6,5.8,6.2,6.4,6.6,6.8,7.2,7.4,7.6,7.8,8.2,8.4], "labels": false, "domain": false, "tickSize": 2}},
      "y": {"field": "v", "type": "quantitative", "title": null, "scale": {"domain": [-1.4, 24.29], "range": [276.3, 50.7], "nice": false, "zero": false}, "axis": {"orient": "left", "offset": -37.9, "values": [-1,1,2,3,4,6,7,8,9,11,12,13,14,16,17,18,19,21,22,23,24], "labels": false, "domain": false, "tickSize": 2}},
      "text": {"field": "lab"}
     }},
    {"data": {"values": [{"t":2.75,"v":0},{"t":3.26,"v":0},{"t":3.28,"v":0},{"t":4.15,"v":0}]},
     "mark": {"type": "tick", "orient": "vertical", "size": 7, "thickness": 1, "color": "#555555", "yOffset": 2},
     "encoding": {
      "x": {"field": "t", "type": "quantitative", "title": null, "scale": {"domain": [-0.012, 8.425], "range": [37.9, 526], "nice": false, "zero": false}, "axis": null},
      "y": {"field": "v", "type": "quantitative", "title": null, "scale": {"domain": [-1.4, 24.29], "range": [276.3, 50.7], "nice": false, "zero": false}, "axis": null}
     }},
    {"data": {"values": [{"t":4.43,"v":16.43,"name":"Sulfadimethoxine"}]},
     "mark": {"type": "text", "align": "left", "baseline": "middle", "font": "Lato", "fontSize": 13.5, "color": "#222222"},
     "encoding": {
      "x": {"field": "t", "type": "quantitative", "title": null, "scale": {"domain": [-0.012, 8.425], "range": [37.9, 526], "nice": false, "zero": false}, "axis": null},
      "y": {"field": "v", "type": "quantitative", "title": null, "scale": {"domain": [-1.4, 24.29], "range": [276.3, 50.7], "nice": false, "zero": false}, "axis": null},
      "text": {"field": "name"}
     }},
    {"data": {"values": [{"t":8.425,"v":24.29,"name":"Det.A Ch1"}]},
     "mark": {"type": "text", "align": "right", "baseline": "top", "dx": -1, "dy": 3, "font": "Liberation Sans", "fontSize": 9, "color": "#333333"},
     "encoding": {
      "x": {"field": "t", "type": "quantitative", "title": null, "scale": {"domain": [-0.012, 8.425], "range": [37.9, 526], "nice": false, "zero": false}, "axis": null},
      "y": {"field": "v", "type": "quantitative", "title": null, "scale": {"domain": [-1.4, 24.29], "range": [276.3, 50.7], "nice": false, "zero": false}, "axis": null},
      "text": {"field": "name"}
     }}
   ]
  }
 ]}
]}
]
}
